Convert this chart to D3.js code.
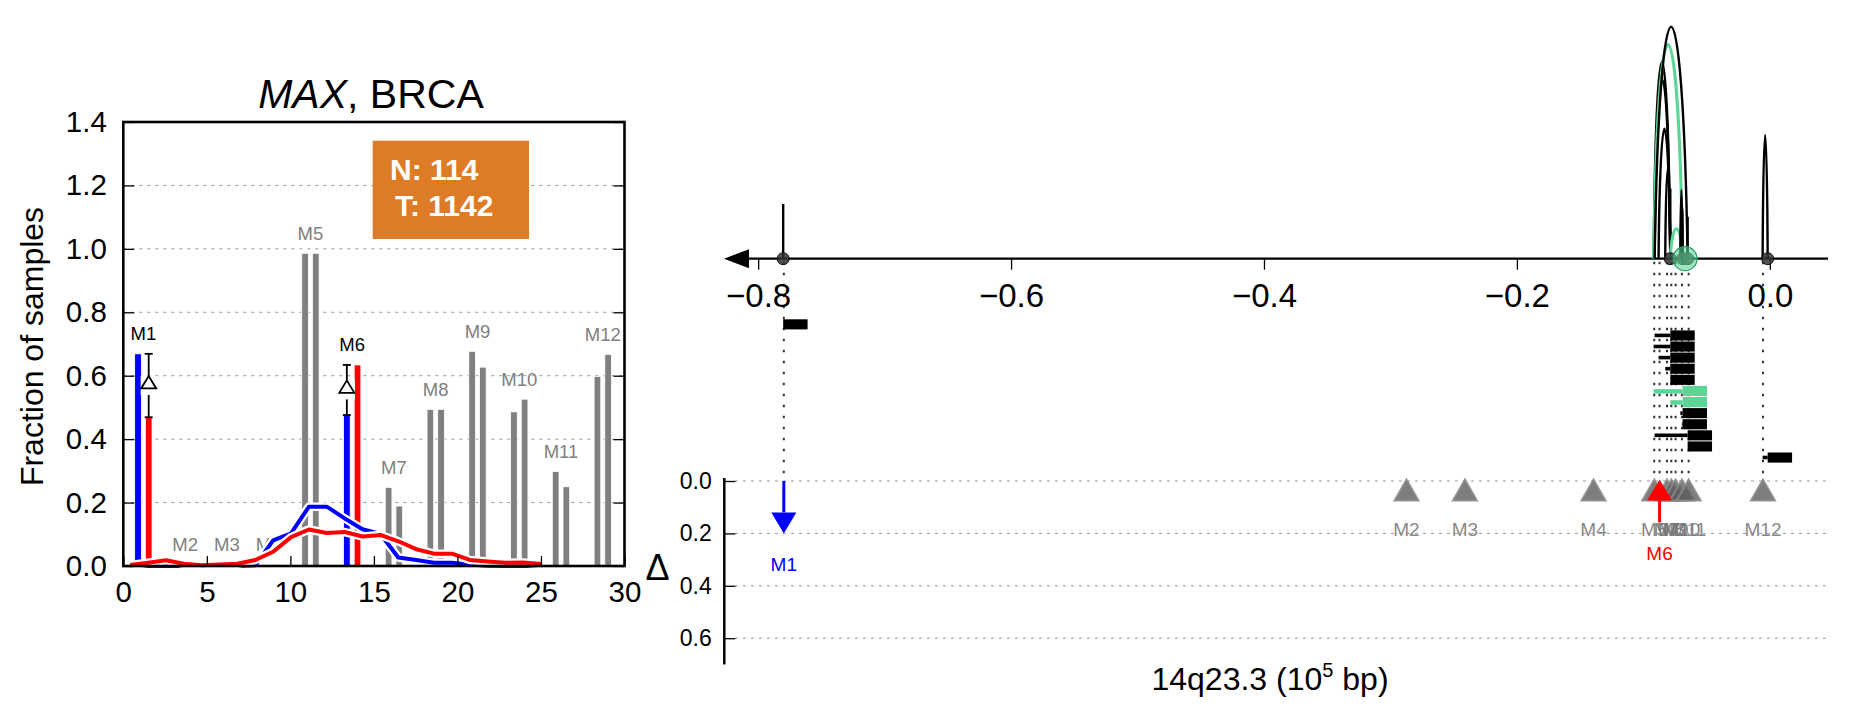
<!DOCTYPE html>
<html><head><meta charset="utf-8">
<script src="https://cdn.jsdelivr.net/npm/d3@7"></script>
<style>
body{margin:0;background:#fff;}
svg{display:block;font-family:"Liberation Sans",Arial,Helvetica,sans-serif;}
</style>
</head><body>
<svg id="c" width="1851" height="718"></svg>
<script>
// ---------------- data ----------------
const gene = "MAX", cancer = "BRCA";
const sampleN = 114, sampleT = 1142;
const motifs = ["M1","M2","M3","M4","M5","M6","M7","M8","M9","M10","M11","M12"];
const groupPos   = [1.2,3.7,6.2,8.7,11.2,13.7,16.2,18.7,21.2,23.7,26.2,28.7];
const normalFrac = [0.669,0.004,0.004,0.004,0.986,0.476,0.248,0.494,0.677,0.486,0.298,0.598];
const tumorFrac  = [0.469,0.004,0.004,0.004,0.986,0.634,0.189,0.494,0.627,0.526,0.250,0.667];
const significant = [true,false,false,false,false,true,false,false,false,false,false,false];

const curveX = [0.41,1.48,2.55,3.62,4.69,5.76,6.83,7.90,8.97,10.04,11.11,12.18,13.25,14.32,15.39,16.46,17.53,18.60,19.67,20.74,21.81,22.88,23.95,25.02];
const normalCurve = [0,0,0,0,0,0,0,0.002,0.081,0.103,0.187,0.187,0.150,0.116,0.101,0.027,0.019,0.010,0.010,0.005,0.001,0,0,0];
const tumorCurve  = [0.003,0.010,0.018,0.007,0.002,0.005,0.007,0.019,0.045,0.091,0.115,0.104,0.107,0.093,0.098,0.078,0.053,0.039,0.039,0.019,0.014,0.010,0.011,0.006];

const leftXTicks = [0,5,10,15,20,25,30];
const leftYTicks = [0.0,0.2,0.4,0.6,0.8,1.0,1.2,1.4];

// right panel (genomic position, 10^5 bp)
const motifPos = [-0.7797,-0.2873,-0.2411,-0.1394,-0.0914,-0.0872,-0.0813,-0.0779,-0.0745,-0.0695,-0.0642,-0.0054];
const motifLinked = [true,false,false,false,true,true,true,true,true,true,true,true];

const rowBlockStart = [-0.7802,-0.0787,-0.0787,-0.0787,-0.0787,-0.0787,-0.0690,-0.0690,-0.0690,-0.0690,-0.0650,-0.0650,-0.0017];
const rowTailStart  = [-0.7802,-0.0911,-0.0919,-0.0880,-0.0827,-0.0787,-0.0919,-0.0787,-0.0708,-0.0696,-0.0911,-0.0650,-0.0057];
const rowLoopScore  = [0.219,0.715,0.788,0.52,0.36,0.28,0.857,0.12,0.275,0.20,0.928,0.168,0.495];
const rowGreen      = [false,false,false,false,false,false,true,true,false,false,false,false,false];
const blockLength = 0.0193;

const rightXTicks = [-0.8,-0.6,-0.4,-0.2,0.0];
const deltaTicks = [0.0,0.2,0.4,0.6];

// ---------------- drawing ----------------
const svg = d3.select("#c");
const GREEN = "#5cd696";

// ===== Left panel =====
const xL = d3.scaleLinear().domain([0,30]).range([123.3,624.5]);
const yL = d3.scaleLinear().domain([0,1.4]).range([566,122]);
const gL = svg.append("g");

// grid
gL.selectAll("line.grid").data(leftYTicks.filter(v=>v>0 && v<1.4)).join("line")
  .attr("x1",xL(0)).attr("x2",xL(30)).attr("y1",d=>yL(d)).attr("y2",d=>yL(d))
  .attr("stroke","#999").attr("stroke-width",1).attr("stroke-dasharray","3,5");

// bars
const barOffset = 0.32, barW = 0.40;
const bars = [];
motifs.forEach((m,i)=>{
  bars.push({pos:groupPos[i]-barOffset, v:normalFrac[i], c:significant[i]?"#0000ff":"#808080"});
  bars.push({pos:groupPos[i]+barOffset, v:tumorFrac[i],  c:significant[i]?"#ff0000":"#808080"});
});
gL.selectAll("rect.bar").data(bars).join("rect")
  .attr("x",d=>xL(d.pos-barW/2)).attr("width",xL(barW)-xL(0))
  .attr("y",d=>yL(d.v)).attr("height",d=>yL(0)-yL(d.v))
  .attr("fill",d=>d.c).attr("stroke","#fff").attr("stroke-width",0.8);

// motif labels
gL.selectAll("text.mlab").data(motifs).join("text")
  .attr("x",(d,i)=>xL(groupPos[i]))
  .attr("y",(d,i)=>yL(Math.max(normalFrac[i],tumorFrac[i]))-13.5)
  .attr("text-anchor","middle").attr("font-size",18.5)
  .attr("fill",(d,i)=>significant[i]?"#000":"#808080").text(d=>d);

// error bars with delta markers
motifs.forEach((m,i)=>{
  if(!significant[i]) return;
  const lo = Math.min(normalFrac[i],tumorFrac[i]), hi = Math.max(normalFrac[i],tumorFrac[i]);
  const px = normalFrac[i] < tumorFrac[i] ? groupPos[i]-barOffset : groupPos[i]+barOffset;
  const x = xL(px), yt = yL(hi), yb = yL(lo), ym = yL((lo+hi)/2);
  gL.append("line").attr("x1",x).attr("x2",x).attr("y1",yt).attr("y2",yb).attr("stroke","#000").attr("stroke-width",1.8);
  [yt,yb].forEach(yy=>gL.append("line").attr("x1",x-4).attr("x2",x+4).attr("y1",yy).attr("y2",yy).attr("stroke","#000").attr("stroke-width",1.8));
  gL.append("rect").attr("x",x-8).attr("y",ym-9.6).attr("width",16).attr("height",19).attr("fill","#fff");
  gL.append("path").attr("d",`M${x},${ym-9.6}L${x+7.5},${ym+2.9}L${x-7.5},${ym+2.9}Z`)
    .attr("fill","#fff").attr("stroke","#000").attr("stroke-width",1.8).attr("stroke-linejoin","miter");
});

// curves
const lineGen = d3.line().x((d,i)=>xL(curveX[i])).y(d=>yL(d));
[[normalCurve,"#0000ff"],[tumorCurve,"#ff0000"]].forEach(([vals,col])=>{
  gL.append("path").attr("d",lineGen(vals)).attr("fill","none").attr("stroke","#fff")
    .attr("stroke-width",8.5).attr("stroke-linejoin","round");
  gL.append("path").attr("d",lineGen(vals)).attr("fill","none").attr("stroke",col)
    .attr("stroke-width",4).attr("stroke-linejoin","round");
});

// N/T box
gL.append("rect").attr("x",372.7).attr("y",140.7).attr("width",156.3).attr("height",98.3).attr("fill","#de7b26");
gL.append("text").attr("x",390).attr("y",180).attr("fill","#fff").attr("font-weight","bold").attr("font-size",30).text("N: "+sampleN);
gL.append("text").attr("x",395).attr("y",216).attr("fill","#fff").attr("font-weight","bold").attr("font-size",30).text("T: "+sampleT);

// frame
gL.append("rect").attr("x",xL(0)).attr("y",yL(1.4)).attr("width",xL(30)-xL(0)).attr("height",yL(0)-yL(1.4))
  .attr("fill","none").attr("stroke","#000").attr("stroke-width",2.6);

// axes
const axB = gL.append("g").attr("transform",`translate(0,${yL(0)})`)
  .call(d3.axisBottom(xL).tickValues(leftXTicks).tickSizeInner(-10).tickSizeOuter(0).tickPadding(15).tickFormat(d3.format("d")));
const axLft = gL.append("g").attr("transform",`translate(${xL(0)},0)`)
  .call(d3.axisLeft(yL).tickValues(leftYTicks).tickSizeInner(-11).tickSizeOuter(0).tickPadding(16.5).tickFormat(d3.format(".1f")));
const axR = gL.append("g").attr("transform",`translate(${xL(30)},0)`)
  .call(d3.axisRight(yL).tickValues(leftYTicks).tickSizeInner(-11).tickSizeOuter(0).tickFormat(""));
[axB,axLft,axR].forEach(a=>{
  a.select(".domain").remove();
  a.selectAll("line").attr("stroke","#000").attr("stroke-width",1.3);
  a.selectAll("text").attr("font-size",29.5).attr("fill","#000").attr("font-family","Liberation Sans, Arial, sans-serif");
});

// title
const title = svg.append("text").attr("x",371).attr("y",108).attr("text-anchor","middle").attr("font-size",41);
title.append("tspan").attr("font-style","italic").text(gene);
title.append("tspan").text(", "+cancer);

// y label
svg.append("text").attr("transform","translate(43,346.5) rotate(-90)").attr("text-anchor","middle")
  .attr("font-size",32).text("Fraction of samples");

// ===== Right panel =====
const xr = d3.scaleLinear().domain([-0.827,0.046]).range([724,1828]);
const yd = d3.scaleLinear().domain([0,0.7]).range([481,664.4]);
const yArc = d3.scaleLinear().domain([0,1]).range([258.7,8.7]);
const rowY = d3.scaleLinear().domain([0,1]).range([319.3,330.4]);
const y0 = yArc(0);
const gR = svg.append("g");

// delta grid
gR.selectAll("line.dg").data(deltaTicks).join("line")
  .attr("x1",735).attr("x2",1828).attr("y1",d=>yd(d)).attr("y2",d=>yd(d))
  .attr("stroke","#999").attr("stroke-width",1).attr("stroke-dasharray","3,5");

// dotted connector lines
gR.selectAll("line.conn").data(motifPos.filter((p,i)=>motifLinked[i])).join("line")
  .attr("x1",d=>xr(d)).attr("x2",d=>xr(d)).attr("y1",y0+3).attr("y2",yd(0))
  .attr("stroke","#333").attr("stroke-width",2).attr("stroke-dasharray","2.5,8.5");

// element rows
rowBlockStart.forEach((b,i)=>{
  const col = rowGreen[i] ? GREEN : "#000";
  const yT = rowY(i);
  if (rowTailStart[i] < b) {
    gR.append("rect").attr("x",xr(rowTailStart[i])).attr("y",yT+3.2)
      .attr("width",xr(b)-xr(rowTailStart[i])).attr("height",rowGreen[i]?4.5:3.6).attr("fill",col);
  }
  gR.append("rect").attr("x",xr(b)).attr("y",yT).attr("width",xr(b+blockLength)-xr(b)).attr("height",10.1).attr("fill",col);
});

// main genomic axis
gR.append("line").attr("x1",740).attr("x2",1828).attr("y1",y0).attr("y2",y0).attr("stroke","#000").attr("stroke-width",2.3);
gR.append("path").attr("d",`M724,${y0}L749,${y0-9.5}L749,${y0+9.5}Z`).attr("fill","#000");
const axT = gR.append("g").attr("transform",`translate(0,${y0})`)
  .call(d3.axisBottom(xr).tickValues(rightXTicks).tickSizeInner(11).tickSizeOuter(0).tickPadding(13.5).tickFormat(d3.format(".1f")));
axT.select(".domain").remove();
axT.selectAll("line").attr("stroke","#000").attr("stroke-width",1.3);
axT.selectAll("text").attr("font-size",33).attr("fill","#000").attr("font-family","Liberation Sans, Arial, sans-serif");

// loops (rounded arcs)
rowBlockStart.forEach((b,i)=>{
  const xa = xr(rowTailStart[i]), xb = xr(b), h = y0 - yArc(rowLoopScore[i]);
  const col = rowGreen[i] ? GREEN : "#000";
  const w = xb - xa, cy = y0 - h*4/3;
  let d;
  if (w < 0.5) d = `M${xb},${y0}L${xb},${y0-h}`;
  else d = `M${xa},${y0}C${xa+0.15*w},${cy} ${xb-0.15*w},${cy} ${xb},${y0}`;
  gR.append("path").attr("d",d).attr("fill","none").attr("stroke",col).attr("stroke-width",rowGreen[i]?3:2.4);
});

// anchor circles
const anchors = Array.from(new Set(rowBlockStart));
gR.selectAll("circle.anc").data(anchors).join("circle")
  .attr("cx",d=>xr(d)).attr("cy",y0).attr("r",6)
  .attr("fill","#333").attr("fill-opacity",0.85).attr("stroke","#111").attr("stroke-width",1);
const greenAnchors = Array.from(new Set(rowBlockStart.filter((b,i)=>rowGreen[i])));
gR.selectAll("circle.ganc").data(greenAnchors).join("circle")
  .attr("cx",d=>xr(d)+2.5).attr("cy",y0).attr("r",12)
  .attr("fill",GREEN).attr("fill-opacity",0.6).attr("stroke","#2e9e66").attr("stroke-width",1.2);

// delta axis
const axD = gR.append("g").attr("transform",`translate(724.3,0)`)
  .call(d3.axisLeft(yd).tickValues(deltaTicks).tickSizeInner(-11).tickSizeOuter(0).tickPadding(12.6).tickFormat(d3.format(".1f")));
axD.select(".domain").attr("stroke","#000").attr("stroke-width",2.5).attr("d",`M0,${yd(0)-3}V${yd(0.7)}`);
axD.selectAll(".tick line").attr("stroke","#000").attr("stroke-width",1.3);
axD.selectAll("text").attr("font-size",23).attr("fill","#000").attr("font-family","Liberation Sans, Arial, sans-serif");

// motif markers / arrows
const headLen = 21, headHalf = 12.5;
motifs.forEach((m,i)=>{
  const x = xr(motifPos[i]);
  if (!significant[i]) {
    gR.append("path").attr("d",`M${x},${yd(0)-1.5}L${x+headHalf-0.5},${yd(0)+19.5}L${x-headHalf+0.5},${yd(0)+19.5}Z`)
      .attr("fill","#5e5e5e").attr("fill-opacity",0.8).attr("stroke","#8a8a8a").attr("stroke-opacity",0.85).attr("stroke-width",2);
  }
});
motifs.forEach((m,i)=>{
  if (!significant[i]) return;
  const x = xr(motifPos[i]);
  const delta = Math.abs(normalFrac[i]-tumorFrac[i]);
  const down = normalFrac[i] > tumorFrac[i];
  const col = down ? "#0000ff" : "#ff0000";
  const yStart = down ? yd(0) : yd(delta);
  const yTip = down ? yd(delta) : yd(0) - 1.5;
  const dir = down ? 1 : -1;
  const yBase = yTip - dir*headLen;
  gR.append("line").attr("x1",x).attr("x2",x).attr("y1",yStart).attr("y2",yBase).attr("stroke",col).attr("stroke-width",3);
  gR.append("path").attr("d",`M${x},${yTip}L${x+headHalf},${yBase}L${x-headHalf},${yBase}Z`).attr("fill",col);
});
// labels
gR.selectAll("text.ml").data(motifs).join("text")
  .attr("x",(d,i)=>xr(motifPos[i]))
  .attr("y",(d,i)=>{
    const delta = Math.abs(normalFrac[i]-tumorFrac[i]);
    return yd(significant[i] ? delta + 0.142 : 0.21);
  })
  .attr("text-anchor","middle").attr("font-size",19)
  .attr("fill",(d,i)=>significant[i] ? (normalFrac[i]>tumorFrac[i] ? "#0000ff" : "#ff0000") : "#787878")
  .attr("fill-opacity",(d,i)=>significant[i]?1:0.9)
  .text(d=>d);

// delta label
svg.append("text").attr("x",657.5).attr("y",580).attr("text-anchor","middle").attr("font-size",36).text("Δ");

// x label
const xl = svg.append("text").attr("x",1270).attr("y",690).attr("text-anchor","middle").attr("font-size",32);
xl.append("tspan").text("14q23.3 (10");
xl.append("tspan").attr("font-size",20).attr("dy",-13).text("5");
xl.append("tspan").attr("dy",13).text(" bp)");
</script>
</body></html>
